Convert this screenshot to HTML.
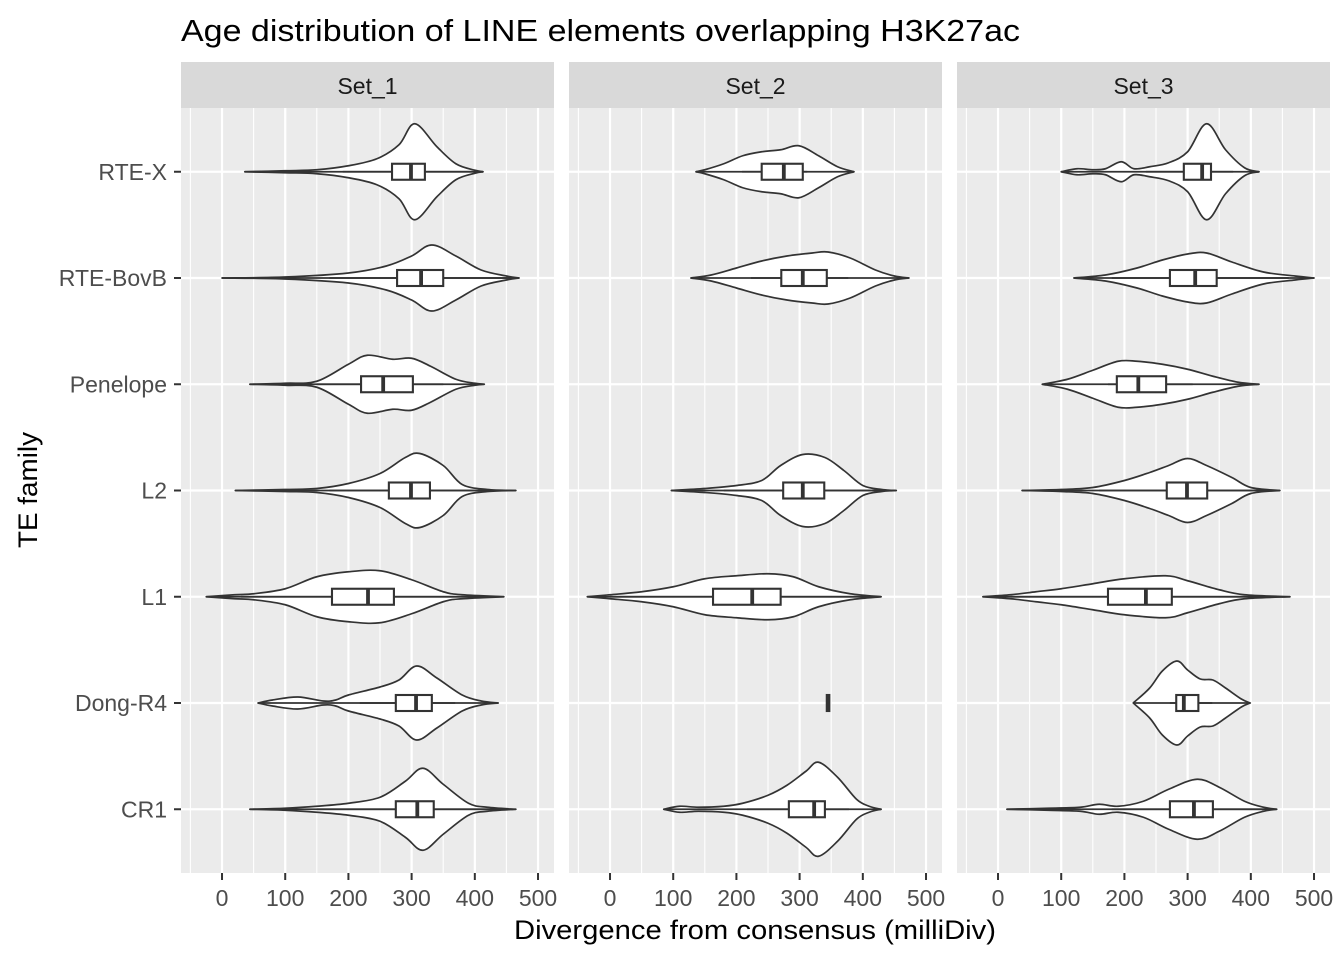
<!DOCTYPE html>
<html><head><meta charset="utf-8"><style>
html,body{margin:0;padding:0;background:#fff;}
svg{display:block;font-family:"Liberation Sans",Arial,sans-serif;}
</style></head><body>
<svg id="chart" width="1344" height="960" viewBox="0 0 1344 960" xmlns="http://www.w3.org/2000/svg">
<text x="181" y="41" font-size="31" fill="#000" textLength="839" lengthAdjust="spacingAndGlyphs">Age distribution of LINE elements overlapping H3K27ac</text>
<text x="514" y="939" font-size="27" fill="#000" textLength="482" lengthAdjust="spacingAndGlyphs">Divergence from consensus (milliDiv)</text>
<text transform="translate(37,490) rotate(-90)" text-anchor="middle" font-size="27" fill="#000" textLength="116" lengthAdjust="spacingAndGlyphs">TE family</text>
<g id="plots"></g>
</svg>
<script>
const panels = ["Set_1","Set_2","Set_3"];
const families = ["RTE-X","RTE-BovB","Penelope","L2","L1","Dong-R4","CR1"];
const xTicks = [0,100,200,300,400,500];
const xMinor = [-50,50,150,250,350,450];
// violin profiles: [value, half-width(px)] per panel per family (null = none)
const violinsSet1 = [
 [[36,0],[100,1],[150,2],[200,6],[245,13],[280,27],[305,48],[340,25],[370,8],[400,1.5],[413,0]],
 [[0,0],[100,1],[200,5],[260,12],[300,22],[332,33],[370,22],[410,8],[450,2],[470,0]],
 [[44,0],[100,1],[150,3],[200,20],[230,29],[270,25],[300,26],[330,18],[370,5],[400,1],[415,0]],
 [[21,0],[100,1],[150,2],[200,7],[250,17],[290,33],[313,37],[350,25],[380,6],[420,1],[465,0]],
 [[-25,0],[20,2],[50,3],[100,8],[150,20],[200,25],[250,26],[300,17],[350,5],[380,2],[446,0]],
 [[57,0],[80,3],[120,6],[160,2],[180,3],[200,8],[250,16],[280,23],[308,37],[340,25],[380,8],[410,2],[437,0]],
 [[44,0],[100,1],[150,3],[200,6],[250,12],[290,28],[318,41],[350,25],[390,6],[420,2],[465,0]]
];
const violinsSet2 = [
 [[136,0],[150,2],[180,8],[210,16],[240,20],[270,22],[299,26],[330,16],[360,5],[386,0]],
 [[128,0],[160,3],[200,10],[240,17],[280,22],[320,25],[345,26],[380,20],[420,8],[450,2],[473,0]],
 null,
 [[97,0],[150,2],[200,5],[240,10],[270,25],[305,36],[340,33],[370,20],[400,5],[430,1],[453,0]],
 [[-36,0],[0,2],[50,5],[100,10],[150,18],[200,21],[250,23],[290,20],[330,10],[380,3],[429,0]],
 null,
 [[85,0],[110,3],[140,2],[180,3],[210,6],[250,14],[280,24],[310,38],[330,47],[360,32],[390,10],[410,3],[429,0]]
];
const violinsSet3 = [
 [[100,0],[125,3],[150,2],[170,3],[195,10],[215,3],[240,5],[270,9],[300,20],[330,48],[360,22],[390,4],[413,0]],
 [[120,0],[170,3],[220,10],[260,18],[300,24],[330,25],[370,16],[420,6],[470,2],[500,0]],
 [[70,0],[110,5],[150,14],[190,23],[220,23],[260,20],[300,15],[340,8],[380,2],[413,0]],
 [[38,0],[100,1],[150,3],[200,10],[240,18],[270,25],[300,32],[330,25],[370,13],[400,3],[446,0]],
 [[-24,0],[20,2],[60,5],[100,8],[150,13],[200,18],[265,21],[300,16],[350,7],[390,2],[462,0]],
 [[214,0],[240,15],[260,32],[283,42],[300,33],[320,24],[340,23],[360,15],[385,4],[399,0]],
 [[14,0],[80,1],[130,2],[160,5],[190,3],[230,8],[270,20],[315,30],[350,22],[390,8],[420,2],[441,0]]
];
// boxplots: [whiskerLo, q1, median, q3, whiskerHi]
const boxesSet1 = [[191,269,299,321,413],[170,277,315,350,460],[150,220,255,302,350],[170,264,299,329,425],[30,174,231,272,420],[218,275,307,332,369],[150,275,309,335,430]];
const boxesSet2 = [[209,240,275,305,312],[223,271,305,343,377],null,[180,274,305,339,430],[0,163,225,270,400],[345,343,345,347,345],[217,283,323,340,378]];
const boxesSet3 = [[234,294,323,337,372],[180,272,312,346,460],[174,188,222,266,308],[160,267,299,331,430],[20,174,234,275,440],[272,282,294,317,339],[180,272,310,340,420]];
const violins = [violinsSet1, violinsSet2, violinsSet3];
const boxes = [boxesSet1, boxesSet2, boxesSet3];

const NS = "http://www.w3.org/2000/svg";
const root = document.getElementById("plots");
const panelLeft = [181, 569, 957], panelW = 373, plotTop = 108, plotBot = 873, stripTop = 62;
const xDomMin = -64.9, xScale = 0.632;
function xs(p, v){ return panelLeft[p] + (v - xDomMin) * xScale; }
function ys(i){ const step = (plotBot - plotTop) / (families.length - 1 + 1.2); return plotTop + (0.6 + i) * step; }
function mk(tag, attrs, parent){ const e = document.createElementNS(NS, tag); for (const k in attrs) e.setAttribute(k, attrs[k]); (parent||root).appendChild(e); return e; }
function smoothPath(pts){
  let d = "M" + pts[0][0].toFixed(2) + "," + pts[0][1].toFixed(2);
  for (let i = 0; i < pts.length - 1; i++){
    const p0 = pts[Math.max(0,i-1)], p1 = pts[i], p2 = pts[i+1], p3 = pts[Math.min(pts.length-1,i+2)];
    const c1 = [p1[0] + (p2[0]-p0[0])/6, p1[1] + (p2[1]-p0[1])/6];
    const c2 = [p2[0] - (p3[0]-p1[0])/6, p2[1] - (p3[1]-p1[1])/6];
    d += " C" + c1[0].toFixed(2)+","+c1[1].toFixed(2)+" "+c2[0].toFixed(2)+","+c2[1].toFixed(2)+" "+p2[0].toFixed(2)+","+p2[1].toFixed(2);
  }
  return d;
}

panels.forEach((name, p) => {
  const g = mk("g", {}, root);
  
  
  const bg = mk("rect", {x: panelLeft[p], y: plotTop, width: panelW, height: plotBot - plotTop, fill: "#ebebeb"}, g);
  
  
  const strip = mk("rect", {x: panelLeft[p], y: stripTop, width: panelW, height: plotTop - stripTop, fill: "#d9d9d9"}, g);
  
  
  const st = mk("text", {x: panelLeft[p] + panelW/2, y: 94, "text-anchor": "middle", "font-size": 23, fill: "#1a1a1a"}, g);
  st.textContent = name;
  
  
  xMinor.forEach(v => {
    const l = mk("line", {x1: xs(p,v), x2: xs(p,v), y1: plotTop, y2: plotBot, stroke: "#fff", "stroke-width": 1.1}, g);
    
    
  });
  xTicks.forEach(v => {
    const l = mk("line", {x1: xs(p,v), x2: xs(p,v), y1: plotTop, y2: plotBot, stroke: "#fff", "stroke-width": 2.2}, g);
    
    
    const t = mk("line", {x1: xs(p,v), x2: xs(p,v), y1: plotBot, y2: plotBot + 7, stroke: "#333", "stroke-width": 2}, g);
    
    
    const tl = mk("text", {x: xs(p,v), y: 906, "text-anchor": "middle", "font-size": 23, fill: "#4d4d4d"}, g);
    tl.textContent = v;
    
    
  });
  families.forEach((f, i) => {
    const l = mk("line", {x1: panelLeft[p], x2: panelLeft[p] + panelW, y1: ys(i), y2: ys(i), stroke: "#fff", "stroke-width": 2.2}, g);
    
    
  });
  families.forEach((f, i) => {
    const y = ys(i);
    const vio = violins[p][i];
    if (vio){
      const top = vio.map(d => [xs(p,d[0]), y - d[1]]);
      const bot = vio.slice().reverse().map(d => [xs(p,d[0]), y + d[1]]);
      const d = smoothPath(top) + " L" + smoothPath(bot).slice(1) + " Z";
      const path = mk("path", {d: d, fill: "#fff", stroke: "#333", "stroke-width": 1.7, "stroke-linejoin": "round"}, g);
      
      
      const tail = mk("line", {x1: xs(p, vio[0][0]), x2: xs(p, vio[vio.length-1][0]), y1: y, y2: y, stroke: "#333", "stroke-width": 1.7}, g);
      
      
    }
    const b = boxes[p][i];
    if (b){
      const w = mk("line", {x1: xs(p,b[0]), x2: xs(p,b[4]), y1: y, y2: y, stroke: "#333", "stroke-width": 1.8}, g);
      
      
      const r = mk("rect", {x: xs(p,b[1]), y: y - 8, width: Math.max(xs(p,b[3]) - xs(p,b[1]), 1), height: 16, fill: "#fff", stroke: "#333", "stroke-width": 2.1}, g);
      
      
      const m = mk("line", {x1: xs(p,b[2]), x2: xs(p,b[2]), y1: y - 8, y2: y + 8, stroke: "#333", "stroke-width": 3.8}, g);
      
      
    }
  });
});
families.forEach((f, i) => {
  const t = mk("line", {x1: 174, x2: 181, y1: ys(i), y2: ys(i), stroke: "#333", "stroke-width": 2});
  
  
  const tl = mk("text", {x: 167, y: ys(i) + 8, "text-anchor": "end", "font-size": 23, fill: "#4d4d4d"});
  tl.textContent = f;
  
  
});
</script>
</body></html>
